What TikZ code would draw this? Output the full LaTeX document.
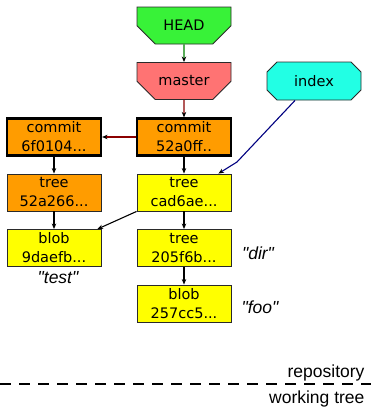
\documentclass[tikz,border=0pt]{standalone}
\usepackage{fontspec}
\setmainfont{DejaVu Sans}
\newfontfamily\labelfont{Liberation Sans}
\usetikzlibrary{arrows.meta,positioning,calc,shapes.misc}
\definecolor{headgreen}{HTML}{38F238}
\definecolor{refred}{HTML}{FF7373}
\definecolor{indexcyan}{HTML}{22FFE4}
\definecolor{objorange}{HTML}{FF9C00}
\definecolor{objyellow}{HTML}{FFFF00}
\definecolor{frame}{HTML}{2A2A2A}
\definecolor{linkgreen}{HTML}{008000}
\definecolor{linkred}{HTML}{8B0000}
\definecolor{linkblue}{HTML}{000080}
\tikzset{
  obj/.style={draw=frame, line width=0.9pt, minimum width=94pt, minimum height=37pt,
              inner sep=0pt, align=center, font=\fontsize{14.5}{19}\selectfont},
  commitobj/.style={obj, draw=black, line width=2.2pt, fill=objorange},
  treeobj/.style={obj, fill=objyellow},
  refbox/.style={obj, chamfered rectangle, chamfered rectangle corners={south west,south east},
                 chamfered rectangle xsep=12pt, chamfered rectangle ysep=13pt},
  indexbox/.style={obj, fill=indexcyan, minimum height=38pt, chamfered rectangle,
                   chamfered rectangle xsep=5pt, chamfered rectangle ysep=5pt},
  link/.style={-{Stealth[length=5.5pt,width=4.5pt,black]}, line width=1.1pt},
  note/.style={font=\labelfont\itshape\fontsize{17.5}{20}\selectfont},
  side/.style={font=\labelfont\fontsize{17.5}{20}\selectfont, anchor=east}
}
\begin{document}
\begin{tikzpicture}[x=1pt,y=-1pt]
  \useasboundingbox (0,0) rectangle (371,418);

  % references
  \node[refbox,fill=headgreen] (head) at (184,25.5) {HEAD};
  \node[refbox,fill=refred] (master) at (184,81) {master};
  \node[indexbox] (index) at (314,81) {index};

  % objects
  \node[commitobj] (c1) at (54,137) {commit\\6f0104...};
  \node[commitobj] (c2) at (184,137) {commit\\52a0ff..};
  \node[obj,fill=objorange] (t1) at (54,192.5) {tree\\52a266...};
  \node[treeobj] (t2) at (184,192.5) {tree\\cad6ae...};
  \node[treeobj] (b1) at (54,248) {blob\\9daefb...};
  \node[treeobj] (t3) at (184,248) {tree\\205f6b...};
  \node[treeobj] (b2) at (184,303.5) {blob\\257cc5...};

  % file names
  \node[note] (ntest) at (58,278) {"test"};
  \node[note] (ndir) at (258,253) {"dir"};
  \node[note] (nfoo) at (260,307) {"foo"};

  % links
  \draw[link,draw=linkgreen] (head) -- (master);
  \draw[link,draw=linkred] (master) -- (c2);
  \draw[link,draw=linkred] (c2) -- (c1);
  \draw[link] (c1) -- (t1);
  \draw[link] (t1) -- (b1);
  \draw[link] (c2) -- (t2);
  \draw[link] (t2) -- (t3);
  \draw[link] (t3) -- (b2);
  \draw[link] (t2.south west) -- ($(b1.north east)+(-4,0)$);
  \coordinate (bend) at (237,162);
  \draw[link,draw=linkblue] ($(index.south)+(-19,0)$) -- (bend) -- ($(t2.north east)+(-13,0)$);

  % repository / working tree
  \draw[line width=1.3pt,dash pattern=on 11pt off 8pt] (0,384) -- (371,384);
  \node[side] (repo) at (368,373) {repository};
  \node[side] (work) at (368,399) {working tree};
\end{tikzpicture}
\end{document}
